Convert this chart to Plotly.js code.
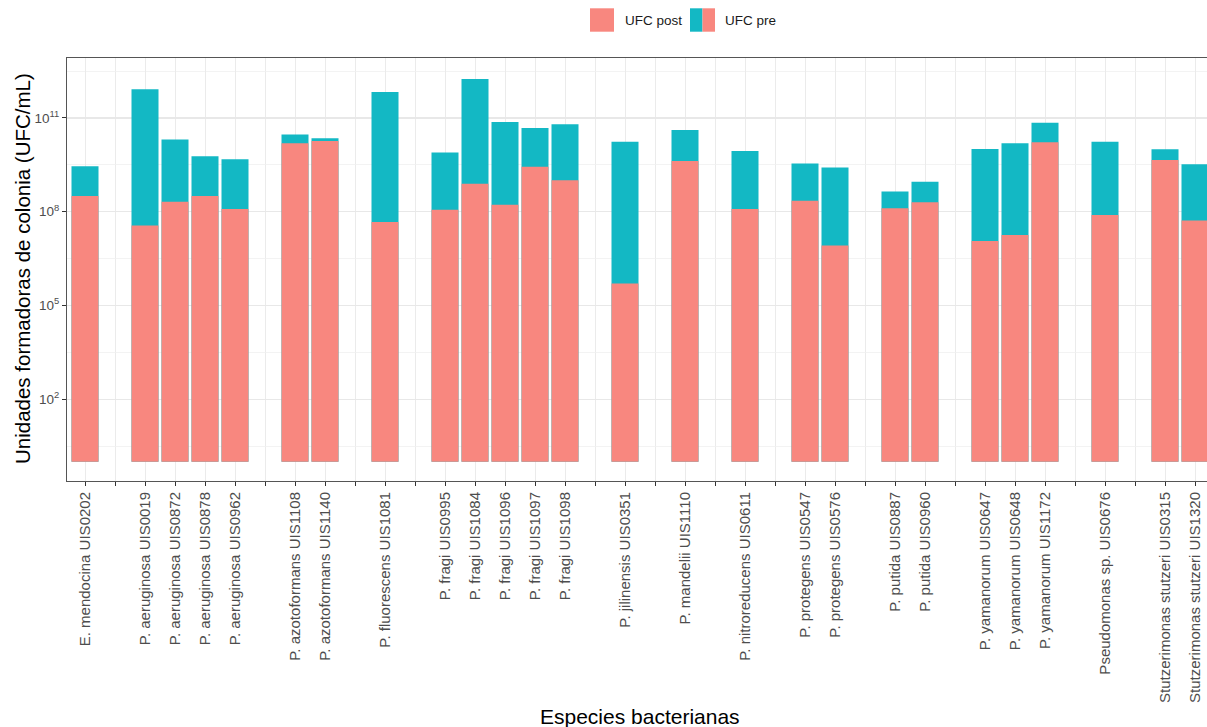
<!DOCTYPE html>
<html>
<head>
<meta charset="utf-8">
<script src="https://cdn.plot.ly/plotly-3.0.1.min.js"></script>
<style>html,body{margin:0;padding:0;background:#fff;}#chart{width:1207px;height:727px;}</style>
</head>
<body>
<div id="chart"></div>
<script>
// ---- data (null = empty slot between species groups) ----
const slots = [
  "E. mendocina UIS0202", null,
  "P. aeruginosa UIS0019", "P. aeruginosa UIS0872", "P. aeruginosa UIS0878", "P. aeruginosa UIS0962", null,
  "P. azotoformans UIS1108", "P. azotoformans UIS1140", null,
  "P. fluorescens UIS1081", null,
  "P. fragi UIS0995", "P. fragi UIS1084", "P. fragi UIS1096", "P. fragi UIS1097", "P. fragi UIS1098", null,
  "P. jilinensis UIS0351", null,
  "P. mandelii UIS1110", null,
  "P. nitroreducens UIS0611", null,
  "P. protegens UIS0547", "P. protegens UIS0576", null,
  "P. putida UIS0887", "P. putida UIS0960", null,
  "P. yamanorum UIS0647", "P. yamanorum UIS0648", "P. yamanorum UIS1172", null,
  "Pseudomonas sp. UIS0676", null,
  "Stutzerimonas stutzeri UIS0315", "Stutzerimonas stutzeri UIS1320"
];
const ufcPre = [
  2.85e9, null,
  8.3e11, 2.04e10, 6.0e9, 4.8e9, null,
  2.95e10, 2.24e10, null,
  6.8e11, null,
  7.9e9, 1.78e12, 7.4e10, 4.8e10, 6.3e10, null,
  1.74e10, null,
  4.1e10, null,
  8.7e9, null,
  3.5e9, 2.6e9, null,
  4.4e8, 9.1e8, null,
  1.02e10, 1.55e10, 7.1e10, null,
  1.74e10, null,
  1.0e10, 3.3e9
];
const ufcPost = [
  3.16e8, null,
  3.6e7, 2.1e8, 3.16e8, 1.23e8, null,
  1.55e10, 1.82e10, null,
  4.7e7, null,
  1.15e8, 7.8e8, 1.66e8, 2.75e9, 1.02e9, null,
  5.0e5, null,
  4.2e9, null,
  1.23e8, null,
  2.24e8, 8.3e6, null,
  1.29e8, 2.0e8, null,
  1.15e7, 1.78e7, 1.66e10, null,
  7.9e7, null,
  4.5e9, 5.2e7
];
const yTickVals = [1e2, 1e5, 1e8, 1e11];
const yTickText = ["10<sup>2</sup>", "10<sup>5</sup>", "10<sup>8</sup>", "10<sup>11</sup>"];
const yMinorExp = [0.5, 3.5, 6.5, 9.5, 12.5];
const seriesNames = ["UFC post", "UFC pre"];

// ---- styling ----
const PINK = "#F8877F", TEAL = "#13B8C4";
const FONT = "Liberation Sans, Arial, sans-serif";
const M = {l: 67, r: 0, t: 58, b: 246};
const W = 1207 - M.l - M.r, H = 727 - M.t - M.b;
const px = p => (p - M.l) / W;            // pixel x -> paper
const py = p => (727 - M.b - p) / H;      // pixel y -> paper

// slot positions on the discrete axis
const pos = slots.map((s, i) => i);
const namedPos = pos.filter(i => slots[i] !== null);
const namedText = namedPos.map(i => slots[i]);
const gapPos = pos.filter(i => slots[i] === null);

const traces = [
  {type: "bar", x: pos, y: ufcPre, base: 1, width: 0.9, name: seriesNames[1],
   marker: {color: TEAL, line: {width: 0}}, showlegend: false, hoverinfo: "skip"},
  {type: "bar", x: pos, y: ufcPost, base: 1, width: 0.9, name: seriesNames[0],
   marker: {color: PINK, line: {width: 0}}, showlegend: false, hoverinfo: "skip"}
];

const layout = {
  width: 1207, height: 727, margin: M,
  paper_bgcolor: "#fff", plot_bgcolor: "#fff",
  font: {family: FONT, color: "#1a1a1a"},
  barmode: "overlay", showlegend: false,
  xaxis: {
    type: "linear",
    tickmode: "array", tickvals: namedPos, ticktext: namedText,
    tickangle: -90, tickfont: {family: FONT, size: 15, color: "#4d4d4d"},
    ticks: "outside", ticklen: 4, tickcolor: "#333", tickwidth: 1,
    showgrid: true, gridcolor: "#EBEBEB", gridwidth: 1,
    minor: {tickmode: "array", tickvals: gapPos, ticks: "outside", ticklen: 4,
            tickcolor: "#333", tickwidth: 1, showgrid: true, gridcolor: "#EBEBEB", gridwidth: 1},
    showline: true, mirror: true, linecolor: "#555", linewidth: 1,
    range: [-0.6, 37.4], automargin: false, zeroline: false, fixedrange: true
  },
  yaxis: {
    type: "log", range: [-0.62, 12.92],
    tickmode: "array", tickvals: yTickVals, ticktext: yTickText,
    tickfont: {family: FONT, size: 13.5, color: "#4d4d4d"},
    ticks: "outside", ticklen: 4, tickcolor: "#333", tickwidth: 1,
    showgrid: true, gridcolor: "#E8E8E8", gridwidth: 1.2,
    minor: {tickmode: "array", tickvals: yMinorExp.map(e => Math.pow(10, e)),
            showgrid: true, gridcolor: "#F0F0F0", gridwidth: 0.8, ticks: ""},
    showline: true, mirror: false, linecolor: "#555", linewidth: 1,
    zeroline: false, automargin: false, fixedrange: true
  },
  shapes: [
    {type: "rect", xref: "paper", yref: "paper", x0: px(590), x1: px(614), y0: py(31.7), y1: py(8.3),
     fillcolor: PINK, line: {width: 0}},
    {type: "rect", xref: "paper", yref: "paper", x0: px(690), x1: px(702.5), y0: py(31.7), y1: py(8.3),
     fillcolor: TEAL, line: {width: 0}},
    {type: "rect", xref: "paper", yref: "paper", x0: px(702.5), x1: px(715), y0: py(31.7), y1: py(8.3),
     fillcolor: PINK, line: {width: 0}}
  ],
  annotations: [
    {text: seriesNames[0], xref: "paper", yref: "paper", x: px(623), y: py(20), xanchor: "left", yanchor: "middle",
     showarrow: false, font: {family: FONT, size: 13.5, color: "#1a1a1a"}},
    {text: seriesNames[1], xref: "paper", yref: "paper", x: px(723), y: py(20), xanchor: "left", yanchor: "middle",
     showarrow: false, font: {family: FONT, size: 13.5, color: "#1a1a1a"}},
    {text: "Unidades formadoras de colonia (UFC/mL)", xref: "paper", yref: "paper", x: px(22), y: py(269),
     xanchor: "center", yanchor: "middle", textangle: -90, showarrow: false,
     font: {family: FONT, size: 20.5, color: "#000"}},
    {text: "Especies bacterianas", xref: "paper", yref: "paper", x: px(640), y: py(716),
     xanchor: "center", yanchor: "middle", showarrow: false,
     font: {family: FONT, size: 21, color: "#000"}}
  ]
};

Plotly.newPlot("chart", traces, layout, {displayModeBar: false, staticPlot: true});
</script>
</body>
</html>
